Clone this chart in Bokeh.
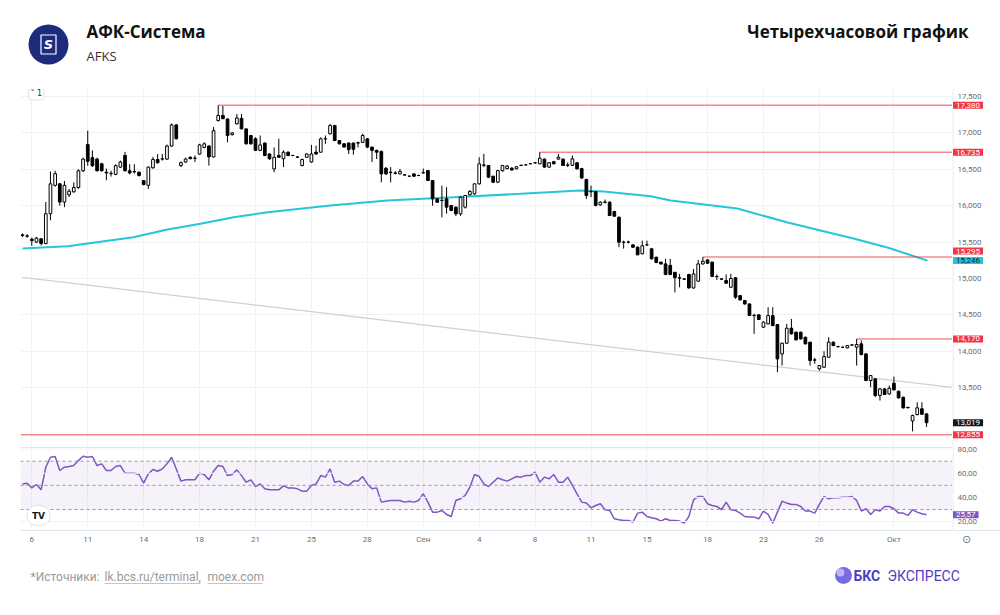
from bokeh.plotting import figure
from bokeh.layouts import column, row
from bokeh.models import (Range1d, FixedTicker, Span, BoxAnnotation, Label)
from bokeh.core.properties import value
from bokeh.embed import file_html
from bokeh.resources import INLINE

# ---------------- data ----------------
opens = [15590, 15580, 15540, 15500, 15545, 15480, 15890, 16280, 16300, 16050,
         16150, 16190, 16250, 16480, 16840, 16660, 16640, 16575, 16460, 16440,
         16430, 16530, 16690, 16480, 16470, 16460, 16345, 16280, 16520, 16635,
         16640, 16640, 16820, 17110, 16550, 16600, 16665, 16650, 16710, 16800,
         16820, 16670, 17170, 17240, 17190, 16975, 17125, 17200, 17055, 16965,
         16920, 16760, 16860, 16710, 16505, 16690, 16645, 16735, 16690, 16670,
         16552, 16665, 16600, 16735, 16735, 16918, 16987, 17101, 16895, 16850,
         16860, 16860, 16865, 16870, 16918, 16805, 16760, 16745, 16515, 16460,
         16450, 16437, 16425, 16405, 16437, 16415, 16450, 16483, 16346, 16094,
         16070, 16094, 16002, 15980, 15888, 15980, 16150, 16162, 16300, 16560,
         16552, 16405, 16323, 16480, 16510, 16515, 16506, 16552, 16560, 16575,
         16590, 16575, 16640, 16530, 16605, 16640, 16640, 16560, 16555, 16590,
         16510, 16360, 16195, 16195, 16011, 16050, 16048, 15920, 15842, 15500,
         15500, 15462, 15430, 15340, 15460, 15407, 15292, 15225, 15200, 15180,
         15085, 15010, 14995, 15055, 14870, 14963, 15200, 15255, 15225, 15027,
         14995, 14972, 14880, 15010, 14765, 14697, 14650, 14495, 14500, 14331,
         14376, 14491, 14367, 13964, 14111, 14317, 14262, 14262, 14193, 14125,
         13882, 13758, 13781, 13918, 14125, 14065, 14056, 14047, 14085, 14056,
         14102, 13964, 13598, 13621, 13392, 13483, 13415, 13562, 13451, 13369,
         13230, 13043, 13130, 13210, 13140]
highs = [15620, 15610, 15560, 15570, 15550, 16050, 16470, 16480, 16310, 16340,
         16230, 16320, 16500, 16660, 17030, 16760, 16660, 16590, 16510, 16480,
         16570, 16620, 16740, 16570, 16570, 16470, 16350, 16540, 16670, 16710,
         16710, 16840, 17130, 17120, 16610, 16660, 16680, 16690, 16850, 16870,
         16830, 17080, 17380, 17370, 17200, 17010, 17260, 17260, 17060, 16970,
         16940, 16965, 16870, 16720, 16800, 16920, 16760, 16745, 16700, 16680,
         16645, 16720, 16835, 16825, 16940, 16965, 17125, 17110, 16900, 16860,
         16870, 16870, 16880, 16990, 16930, 16810, 16770, 16760, 16530, 16530,
         16475, 16506, 16435, 16415, 16445, 16425, 16510, 16490, 16350, 16100,
         16275, 16254, 16010, 15990, 16130, 16150, 16215, 16310, 16666, 16712,
         16560, 16410, 16490, 16560, 16560, 16530, 16545, 16565, 16570, 16585,
         16600, 16735, 16650, 16600, 16615, 16712, 16650, 16595, 16690, 16600,
         16520, 16370, 16275, 16200, 16060, 16085, 16060, 15930, 15850, 15520,
         15520, 15470, 15440, 15520, 15520, 15420, 15300, 15230, 15270, 15270,
         15090, 15063, 15000, 15065, 15130, 15255, 15295, 15265, 15230, 15055,
         15005, 15055, 15063, 15020, 14770, 14705, 14660, 14514, 14510, 14410,
         14605, 14605, 14370, 14120, 14376, 14445, 14270, 14270, 14200, 14130,
         13910, 13810, 14000, 14193, 14135, 14075, 14065, 14085, 14095, 14170,
         14150, 13970, 13675, 13630, 13495, 13490, 13530, 13653, 13460, 13375,
         13235, 13130, 13300, 13300, 13150]
lows = [15570, 15560, 15450, 15490, 15455, 15470, 15800, 16260, 16000, 15980,
        16120, 16180, 16230, 16460, 16550, 16530, 16470, 16470, 16350, 16400,
        16420, 16520, 16470, 16430, 16440, 16400, 16280, 16230, 16510, 16580,
        16620, 16630, 16810, 16910, 16530, 16590, 16640, 16600, 16700, 16790,
        16550, 16660, 17155, 17190, 16870, 16965, 17115, 17050, 16840, 16840,
        16750, 16750, 16680, 16630, 16460, 16660, 16530, 16680, 16680, 16655,
        16540, 16660, 16590, 16700, 16730, 16850, 16980, 16890, 16840, 16800,
        16710, 16700, 16800, 16860, 16790, 16600, 16640, 16320, 16420, 16320,
        16430, 16430, 16410, 16395, 16400, 16405, 16440, 16340, 16000, 16040,
        15840, 15890, 15925, 15856, 15860, 15960, 16140, 16150, 16290, 16530,
        16380, 16310, 16310, 16470, 16500, 16480, 16500, 16545, 16555, 16570,
        16580, 16570, 16520, 16520, 16570, 16635, 16545, 16530, 16545, 16495,
        16370, 16094, 16118, 15990, 16000, 16030, 15860, 15850, 15430, 15410,
        15480, 15420, 15320, 15330, 15450, 15260, 15210, 15190, 15045, 15045,
        14810, 14880, 14980, 14860, 14860, 14955, 15190, 15200, 15020, 14980,
        14985, 14930, 14870, 14720, 14700, 14640, 14485, 14239, 14430, 14320,
        14370, 14345, 13712, 13804, 14100, 14230, 14150, 14160, 14095, 13804,
        13827, 13735, 13770, 13910, 14070, 14055, 14050, 14040, 14078, 13804,
        13945, 13590, 13506, 13369, 13323, 13400, 13405, 13460, 13350, 13215,
        13215, 12900, 13120, 13125, 12960]
closes = [15600, 15585, 15520, 15555, 15480, 15890, 16300, 16440, 16050, 16280,
          16200, 16250, 16480, 16640, 16610, 16550, 16480, 16480, 16450, 16445,
          16550, 16600, 16480, 16450, 16465, 16415, 16290, 16530, 16635, 16590,
          16645, 16820, 17110, 16920, 16590, 16640, 16645, 16655, 16835, 16850,
          16670, 17030, 17240, 17195, 16965, 17000, 17205, 17055, 16850, 16850,
          16760, 16835, 16690, 16645, 16665, 16665, 16735, 16690, 16690, 16665,
          16635, 16710, 16710, 16710, 16918, 16920, 17101, 16895, 16850, 16805,
          16770, 16775, 16860, 16964, 16805, 16760, 16735, 16437, 16437, 16455,
          16445, 16470, 16420, 16405, 16405, 16415, 16455, 16346, 16094, 16048,
          16075, 15980, 15934, 15888, 16117, 16140, 16195, 16300, 16575, 16555,
          16392, 16323, 16483, 16552, 16545, 16490, 16535, 16555, 16562, 16578,
          16588, 16652, 16530, 16590, 16575, 16666, 16552, 16555, 16643, 16506,
          16380, 16140, 16190, 16003, 16048, 16048, 15865, 15856, 15499, 15495,
          15500, 15430, 15325, 15450, 15462, 15270, 15220, 15200, 15055, 15055,
          15010, 15005, 14990, 14870, 15063, 15200, 15237, 15210, 15027, 15025,
          14990, 14935, 15000, 14743, 14706, 14650, 14491, 14490, 14436, 14400,
          14491, 14353, 13895, 14111, 14317, 14239, 14157, 14170, 14102, 13873,
          13878, 13804, 13927, 14125, 14079, 14062, 14055, 14079, 14088, 14093,
          13955, 13598, 13666, 13392, 13483, 13406, 13492, 13470, 13360, 13222,
          13225, 13117, 13223, 13135, 13019]

rsi = [51.2, 51.8, 47.9, 50.7, 46.3, 65.0, 73.3, 73.8, 62.3, 65.0,
       65.6, 66.4, 70.5, 74.1, 73.3, 73.8, 66.4, 67.8, 62.3, 62.3,
       65.6, 66.4, 60.1, 60.1, 60.1, 59.0, 51.8, 59.5, 63.1, 61.7,
       63.6, 67.8, 73.3, 63.6, 53.5, 54.6, 54.6, 54.6, 60.1, 59.0,
       54.6, 61.7, 66.4, 65.6, 58.1, 59.0, 62.8, 58.1, 52.6, 54.6,
       49.0, 51.2, 47.1, 46.3, 46.3, 46.3, 49.6, 47.9, 47.9, 47.1,
       45.2, 45.2, 49.9, 51.2, 58.1, 56.8, 63.6, 52.6, 53.5, 50.7,
       49.9, 53.5, 53.5, 57.3, 51.2, 47.1, 47.9, 36.1, 36.9, 37.5,
       37.5, 37.5, 36.1, 36.9, 36.1, 37.5, 43.0, 36.1, 27.8, 27.8,
       29.2, 25.9, 24.2, 37.5, 38.9, 41.6, 48.5, 59.0, 57.3, 51.2,
       49.0, 52.6, 56.2, 54.6, 53.5, 55.4, 57.3, 56.8, 58.1, 58.1,
       60.9, 52.6, 56.8, 55.4, 59.0, 52.6, 52.6, 56.8, 49.9, 43.0,
       36.1, 35.3, 31.4, 33.3, 34.7, 29.8, 29.2, 22.3, 21.5, 20.9,
       20.9, 19.6, 27.0, 27.8, 24.2, 23.2, 22.3, 20.4, 22.3, 20.9,
       20.9, 20.4, 18.7, 24.2, 38.0, 40.8, 40.8, 34.7, 33.3, 32.5,
       29.8, 36.1, 29.8, 29.2, 27.0, 24.2, 23.7, 23.7, 22.3, 28.7,
       25.9, 18.7, 27.8, 36.9, 35.3, 34.2, 34.2, 32.5, 28.7, 28.7,
       27.0, 34.2, 40.8, 38.9, 39.7, 39.7, 40.2, 40.2, 40.8, 37.5,
       28.7, 30.6, 25.9, 29.8, 28.7, 32.5, 32.5, 30.6, 27.0, 27.0,
       25.1, 29.8, 27.8, 26.5, 25.57]

ma_idx = [0, 9.7, 23.8, 31.1, 38.2, 45.3, 52.6, 66.1, 78.3, 92.5, 106.9,
          119.7, 124.7, 134.8, 139.1, 153.4, 164.2, 178.3, 185.6, 194.2]
ma_val = [15412, 15443, 15567, 15673, 15751, 15842, 15910, 16002, 16071, 16116,
          16163, 16208, 16195, 16130, 16071, 15961, 15769, 15549, 15425, 15246]

trend_idx = [0, 199.6]
trend_val = [15015, 13503]

levels = [17380, 16735, 15295, 14170, 12855]
level_from = [42, 111, 146, 179, -0.43]

tick_idx = [2, 14, 26, 38, 50, 62, 74, 86, 98, 110, 122, 134, 147, 159, 171, 187]
tick_labels = ["6", "11", "14", "18", "21", "25", "28", "Сен", "4", "8",
               "11", "15", "18", "23", "26", "Окт"]
price_ticks = [13500, 14000, 14500, 15000, 15500, 16000, 16500, 17000, 17500]
price_ticklabels = [f"{v:,}" for v in price_ticks]
rsi_ticks = [80, 60, 40, 20]
rsi_ticklabels = ["80,00", "60,00", "40,00", "20,00"]
rsi_levels = [70, 50, 30]
ma_last = 15246
rsi_last = 25.57

# ---------------- layout constants ----------------
W, H = 1000, 615
HEAD_H, FOOT_H = 80, 65
MID_H = H - HEAD_H - FOOT_H          # 470
FL, FR, FT, FB = 20, 952, 88, 530    # chart frame in page pixels
X0, X1 = -0.43, 199.57
P0, P1 = 11538, 17610                # price at FB / FT
R0, R1 = 12.6, 378.7                 # rsi at FB / FT
PANE_SPLIT_PX = 447
GRID = "#f0f2f6"
AXIS = "#e0e3eb"
TXT = "#6a6d78"


def lin(py, lo, hi):
    return hi - (py - FT) * (hi - lo) / (FB - FT)


price_range = Range1d(P0, P1)
rsi_range = Range1d(R0, R1)

# ---------------- header ----------------
hd = figure(width=W, height=HEAD_H, x_range=Range1d(0, W), y_range=Range1d(HEAD_H, 0),
            output_backend="svg", toolbar_location=None, min_border=0,
            x_axis_location=None, y_axis_location=None)
hd.grid.visible = False
hd.outline_line_color = None
hd.scatter([48], [44], size=40, marker="circle", fill_color="#1c2b7c", line_color=None)
hd.rect([48], [44], width=15, height=19, width_units="screen", height_units="screen",
        fill_color=None, line_color="white", line_width=1.2)
hd.text([48], [44], text=["S"], text_align="center", text_baseline="middle",
        text_color="white", text_font=value("DejaVu Sans"), text_font_size="13px",
        text_font_style="bold italic")
hd.text([86], [31], text=["АФК-Система"], text_baseline="middle", text_color="#111111",
        text_font=value("Open Sans"), text_font_size="17px", text_font_style="bold")
hd.text([86], [55], text=["AFKS"], text_baseline="middle", text_color="#333333",
        text_font=value("Open Sans"), text_font_size="13px")
hd.text([968], [31], text=["Четырехчасовой график"], text_align="right",
        text_baseline="middle", text_color="#111111",
        text_font=value("Open Sans"), text_font_size="17px", text_font_style="bold")

# ---------------- main chart ----------------
p = figure(width=FR, height=MID_H, x_range=Range1d(X0, X1), y_range=price_range,
           output_backend="svg", toolbar_location=None, y_axis_location=None,
           min_border_left=FL, min_border_right=0, min_border_top=FT - HEAD_H,
           min_border_bottom=HEAD_H + MID_H - FB)
p.extra_y_ranges = {"rsi": rsi_range}
p.outline_line_color = None

xa = p.xaxis[0]
xa.ticker = FixedTicker(ticks=tick_idx)
xa.major_label_overrides = {t: l for t, l in zip(tick_idx, tick_labels)}
xa.axis_line_color = AXIS
xa.major_tick_line_color = None
xa.major_tick_out = 0
xa.major_tick_in = 0
xa.minor_tick_line_color = None
xa.minor_tick_out = 0
xa.major_label_text_color = TXT
xa.major_label_text_font = "Roboto"
xa.major_label_text_font_size = "8px"
xa.major_label_standoff = 4

p.xgrid.ticker = FixedTicker(ticks=tick_idx)
p.xgrid.grid_line_color = GRID
p.ygrid.ticker = FixedTicker(ticks=price_ticks)
p.ygrid.grid_line_color = GRID

p.add_layout(BoxAnnotation(bottom=30, top=70, y_range_name="rsi",
                           fill_color="#7e57c2", fill_alpha=0.08, line_color=None))
for v in rsi_ticks:
    p.add_layout(Span(location=v, dimension="width", y_range_name="rsi",
                      line_color=GRID, line_width=1))
for v in rsi_levels:
    p.add_layout(Span(location=v, dimension="width", y_range_name="rsi",
                      line_color="#9598a1", line_dash="3 3", line_width=1))
p.add_layout(Span(location=lin(PANE_SPLIT_PX, P0, P1), dimension="width",
                  line_color=AXIS, line_width=1))

idx = list(range(len(opens)))

p.line(trend_idx, trend_val, line_color="#cfcfd4", line_width=1.2)
p.line(ma_idx, ma_val, line_color="#26c6da", line_width=2)
p.segment(x0=level_from, y0=levels, x1=[X1] * len(levels), y1=levels,
          line_color="#f23645", line_alpha=0.6, line_width=1.5)

p.segment(x0=idx, y0=highs, x1=idx, y1=lows, line_color="black", line_width=1)
up = [i for i in idx if closes[i] >= opens[i]]
dn = [i for i in idx if closes[i] < opens[i]]
p.vbar(x=up, width=0.58, top=[closes[i] for i in up], bottom=[opens[i] for i in up],
       fill_color="white", line_color="black", line_width=1)
p.vbar(x=dn, width=0.58, top=[opens[i] for i in dn], bottom=[closes[i] for i in dn],
       fill_color="black", line_color="black", line_width=1)

p.line(idx, rsi, y_range_name="rsi", line_color="#7e57c2", line_width=1.5)

# in-frame decorations (canvas units of this figure)
p.add_layout(Label(x=28, y=93 - HEAD_H, x_units="canvas", y_units="canvas", text="˅ 1",
                   text_baseline="middle", text_font="DejaVu Sans", text_font_size="8px",
                   text_color="#333333", background_fill_color="white",
                   border_line_color=AXIS, padding=2, border_radius=3))
p.add_layout(Label(x=38, y=515 - HEAD_H, x_units="canvas", y_units="canvas", text="TV",
                   text_align="center", text_baseline="middle", text_font="DejaVu Sans",
                   text_font_size="9px", text_font_style="bold", text_color="#131722",
                   background_fill_color="white", border_line_color=AXIS,
                   padding=5, border_radius=11))

# ---------------- right price scale (frame aligned with the chart) ----------------
sd = figure(width=W - FR, height=MID_H, x_range=Range1d(FR, W), y_range=price_range,
            output_backend="svg", toolbar_location=None, min_border=0,
            y_axis_location=None)
sd.extra_y_ranges = {"rsi": rsi_range}
sd.grid.visible = False
sd.outline_line_color = None
sd.add_layout(Span(location=FR + 0.5, dimension="height", line_color=AXIS, line_width=1))
sa = sd.xaxis[0]
sa.ticker = FixedTicker(ticks=[966])
sa.major_label_overrides = {966: "⊙"}
sa.axis_line_color = AXIS
sa.major_tick_line_color = None
sa.major_tick_out = 0
sa.major_tick_in = 0
sa.minor_tick_line_color = None
sa.minor_tick_out = 0
sa.major_label_text_color = TXT
sa.major_label_text_font = "DejaVu Sans"
sa.major_label_text_font_size = "11px"
sa.major_label_standoff = 2

sd.text(x=[FR + 5] * len(price_ticks), y=price_ticks, text=price_ticklabels,
        text_baseline="middle", text_color=TXT, text_font=value("Roboto"),
        text_font_size="8px")
sd.text(x=[FR + 5] * len(rsi_ticks), y=rsi_ticks, text=rsi_ticklabels,
        y_range_name="rsi", text_baseline="middle", text_color=TXT,
        text_font=value("Roboto"), text_font_size="8px")


def value_label(y, text, bg, fg, y_range_name="default", y_offset=0):
    sd.add_layout(Label(x=FR + 0.5, y=y, text=text, text_align="left",
                        text_baseline="middle", y_offset=y_offset, y_range_name=y_range_name,
                        text_font="Roboto", text_font_size="8px", text_color=fg,
                        background_fill_color=bg, padding=(3, 1)))


for lv in levels:
    value_label(lv, f"{lv:,}", "#f23645", "white", y_offset=6 if lv == 15295 else 0)
value_label(ma_last, f"{ma_last:,}", "#26c6da", "#0c1d26")
value_label(closes[-1], f"{closes[-1]:,}", "#131722", "white")
value_label(rsi_last, f"{rsi_last:.2f}".replace(".", ","), "#7e57c2", "white",
            y_range_name="rsi")

# ---------------- footer ----------------
ft = figure(width=W, height=FOOT_H, x_range=Range1d(0, W), y_range=Range1d(H, H - FOOT_H),
            output_backend="svg", toolbar_location=None, min_border=0,
            x_axis_location=None, y_axis_location=None)
ft.grid.visible = False
ft.outline_line_color = None
src_parts = ["*Источники:", "lk.bcs.ru/terminal,", "moex.com"]
src_x = [30, 104, 207]
ft.text(x=src_x, y=[576] * 3, text=src_parts, text_baseline="middle", text_color="#9a9a9a",
        text_font=value("Roboto"), text_font_size="12px")
ft.segment(x0=[104, 207], y0=[583, 583], x1=[200, 262], y1=[583, 583],
           line_color="#b5b5b5", line_width=0.8)
ft.scatter([843], [575], size=17, marker="circle", fill_color="#776be4", line_color=None)
ft.scatter([840], [572], size=8, marker="circle", fill_color="#c2bcf6", line_color=None,
           fill_alpha=0.9)
ft.text([853], [575], text=["БКС"], text_baseline="middle", text_color="#4a3dc4",
        text_font=value("Roboto"), text_font_size="14px", text_font_style="bold")
ft.text([887], [575], text=["ЭКСПРЕСС"], text_baseline="middle", text_color="#4a3dc4",
        text_font=value("Roboto"), text_font_size="14px")

layout = column(hd, row(p, sd), ft)
open("out.html", "w").write(file_html(layout, INLINE))
